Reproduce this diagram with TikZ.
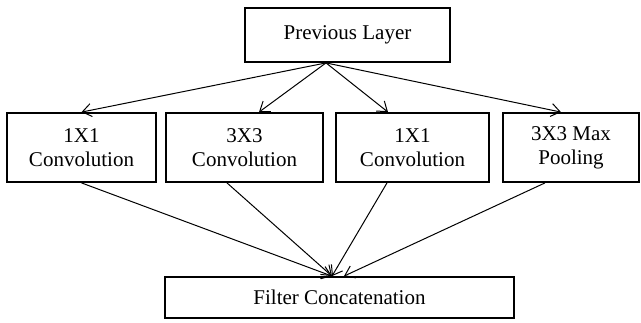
\documentclass[tikz,border=0pt]{standalone}
\usepackage{fontspec}
\setmainfont{Liberation Serif}
\usetikzlibrary{arrows.meta}
\begin{document}
\begin{tikzpicture}[x=1pt,y=-1pt,
  box/.style={draw, line width=1.8pt, inner sep=0pt, align=center,
    font=\fontsize{21}{24}\selectfont},
  conn/.style={line width=1pt,
    -{Straight Barb[length=9pt,width=13pt,line width=1pt]}}]
\useasboundingbox (0,0) rectangle (641,322);
\node[box, minimum width=205pt, minimum height=54pt] (prev) at (347.5,35) {Previous Layer};
\node[box, minimum width=149pt, minimum height=69pt] (b1) at (81.5,147.5) {1X1\\Convolution};
\node[box, minimum width=157pt, minimum height=69pt] (b2) at (244.5,147.5) {3X3\\Convolution};
\node[box, minimum width=153pt, minimum height=69pt] (b3) at (412.5,147.5) {1X1\\Convolution};
\node[box, minimum width=136pt, minimum height=69pt] (b4) at (571,147.5) {3X3 Max\\Pooling};
\node[box, minimum width=349pt, minimum height=41pt] (filt) at (339.5,297.5) {Filter Concatenation};
\coordinate (src) at ([xshift=-21.5pt]prev.south);
\draw[conn] (src) -- (b1.north);
\draw[conn] (src) -- ([xshift=14.5pt]b2.north);
\draw[conn] (src) -- ([xshift=-24.5pt]b3.north);
\draw[conn] (src) -- ([xshift=-10pt]b4.north);
\draw[conn] (b1.south) -- ([xshift=-7.5pt]filt.north);
\draw[conn] ([xshift=-17.5pt]b2.south) -- ([xshift=-7.5pt]filt.north);
\draw[conn] ([xshift=-25.5pt]b3.south) -- ([xshift=-7.5pt]filt.north);
\draw[conn] ([xshift=-26pt]b4.south) -- ([xshift=4.5pt]filt.north);
\end{tikzpicture}
\end{document}
